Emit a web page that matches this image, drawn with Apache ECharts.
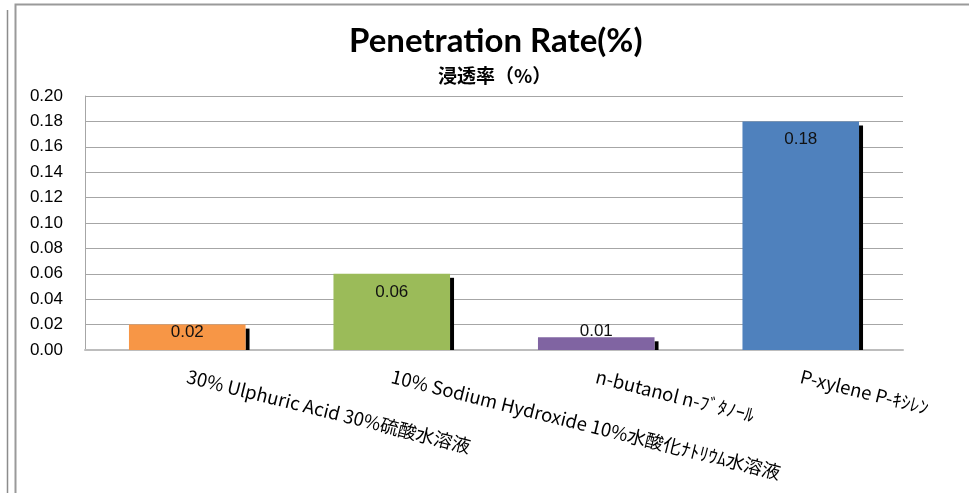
<!DOCTYPE html>
<html>
<head>
<meta charset="utf-8">
<title>Penetration Rate</title>
<script src="https://cdn.jsdelivr.net/npm/echarts@6/dist/echarts.min.js"></script>
<style>
    html, body { margin: 0; padding: 0; background: #fff; }
    #main { width: 969px; height: 493px; }
</style>
</head>
<body>
<div id="main"></div>
<script>
// chart values
var categories = [
    '30% Ulphuric Acid 30%硫酸水溶液',
    '10% Sodium Hydroxide 10%水酸化ﾅﾄﾘｳﾑ水溶液',
    'n-butanol n-ﾌﾞﾀﾉｰﾙ',
    'P-xylene P-ｷｼﾚﾝ'
];
var rates = [0.02, 0.06, 0.01, 0.18];
var yMin = 0, yMax = 0.2, yStep = 0.02;

// styles
var barColors = ['#F79646', '#9BBB59', '#8064A2', '#4F81BD'];
var labelPlace = [
    {position: 'insideTop', distance: -1},
    {position: 'insideTop', distance: 10},
    {position: 'top', distance: -3},
    {position: 'insideTop', distance: 9}
];
var barGap = 0.43;

var myChart = echarts.init(document.getElementById('main'));

var barData = rates.map(function (v, i) {
    return {
        value: v,
        itemStyle: {color: barColors[i]},
        label: labelPlace[i]
    };
});

myChart.setOption({
    animation: false,
    title: [
        {
            text: 'Penetration Rate(%)',
            left: 349,
            top: 25,
            padding: 0,
            textStyle: {fontFamily: 'Lato', fontWeight: 'bold', fontSize: 33, lineHeight: 33, color: '#000'}
        },
        {
            text: '浸透率（%）',
            left: 438,
            top: 66,
            padding: 0,
            textStyle: {fontFamily: 'Noto Sans CJK JP', fontWeight: 'bold', fontSize: 19, lineHeight: 19, color: '#000'}
        }
    ],
    graphic: [
        {
            type: 'line',
            shape: {x1: 7.5, y1: 10, x2: 7.5, y2: 493},
            style: {stroke: '#8c8c8c', lineWidth: 1.5}
        },
        {
            type: 'polyline',
            shape: {points: [[15.5, 493], [15.5, 4.5], [969, 4.5]]},
            style: {stroke: '#9a9a9a', lineWidth: 2, fill: null}
        }
    ],
    grid: {
        left: 85,
        right: 66,
        top: 96,
        bottom: 143,
        outerBoundsMode: 'none',
        containLabel: false
    },
    xAxis: {
        type: 'category',
        data: categories,
        axisTick: {show: false},
        axisLine: {lineStyle: {color: '#bdbdbd', width: 2}},
        axisLabel: {
            interval: 0,
            rotate: -14,
            margin: 26,
            fontFamily: 'Noto Sans CJK JP',
            fontSize: 18.5,
            color: '#000'
        }
    },
    yAxis: {
        type: 'value',
        min: yMin,
        max: yMax,
        interval: yStep,
        axisLine: {show: true, lineStyle: {color: '#a6a6a6', width: 1}},
        axisTick: {show: false},
        splitLine: {lineStyle: {color: '#a6a6a6', width: 1}},
        axisLabel: {
            margin: 22,
            fontFamily: 'Liberation Sans',
            fontSize: 17,
            color: '#000',
            formatter: function (v) {
                return v.toFixed(2);
            }
        }
    },
    series: [
        {
            type: 'custom',
            z: 1,
            renderItem: function (params, api) {
                var top = api.coord([api.value(0), api.value(1)]);
                var base = api.coord([api.value(0), 0]);
                var band = api.size([1, 0])[0];
                var right = top[0] + band * (1 - barGap) / 2;
                return {
                    type: 'rect',
                    shape: {x: right, y: top[1] + 4, width: 4, height: Math.max(0, base[1] - top[1] - 4)},
                    style: {fill: '#000'}
                };
            },
            data: rates.map(function (v, i) {
                return [i, v];
            })
        },
        {
            type: 'bar',
            z: 2,
            barCategoryGap: (barGap * 100) + '%',
            label: {
                show: true,
                fontFamily: 'Liberation Sans',
                fontSize: 17,
                color: '#111',
                formatter: function (p) {
                    return p.value.toFixed(2);
                }
            },
            data: barData
        }
    ]
});
</script>
</body>
</html>
